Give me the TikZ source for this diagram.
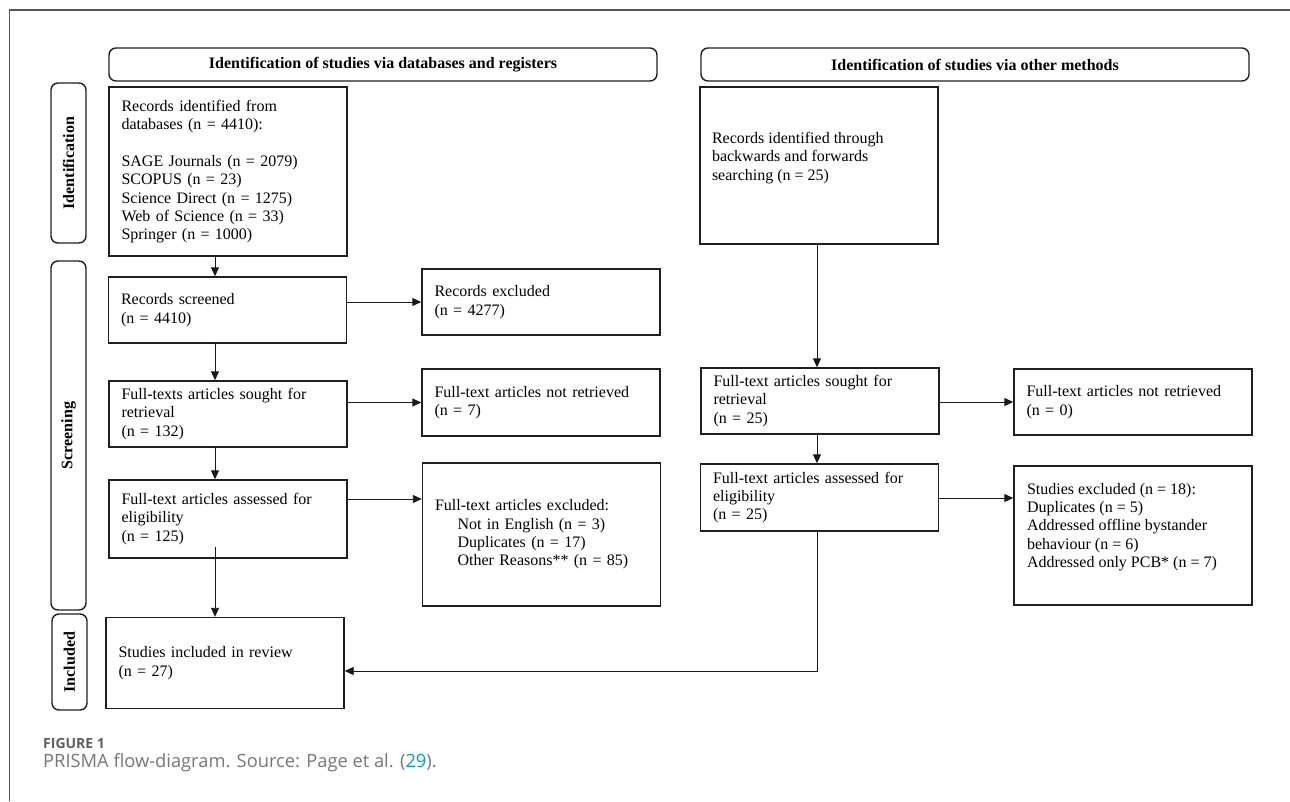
\documentclass[tikz,border=0pt]{standalone}
\usepackage{fontspec}
\setmainfont{Liberation Serif}
\newfontfamily\capfont{Open Sans}
\usetikzlibrary{arrows.meta,calc}
\definecolor{linkc}{RGB}{0,160,200}
\definecolor{framec}{RGB}{85,85,85}
\definecolor{capc}{RGB}{95,95,95}
\begin{document}
\begin{tikzpicture}[x=1pt,y=-1pt,
  bx/.style={draw=black!88, line width=1.4pt, inner xsep=12.5pt, inner ysep=0pt,
    align=left, minimum width=238pt, text width=213pt, minimum height=#1,
    font=\fontsize{16}{18.4}\selectfont},
  txt/.style={inner sep=0pt, align=left, font=\fontsize{16}{18.4}\selectfont},
  hdr/.style={draw=black!88, line width=1.4pt, rounded corners=7pt, minimum width=548pt,
    minimum height=33pt, inner sep=0pt, font=\bfseries\fontsize{16}{18.4}\selectfont},
  side/.style={draw=black!88, line width=1.4pt, rounded corners=7pt, rotate=90,
    minimum width=#1, minimum height=35pt, inner sep=0pt,
    font=\bfseries\fontsize{16}{18.4}\selectfont},
  arr/.style={draw=black!90, line width=0.9pt, -{Triangle[length=9pt,width=8pt]}},
  ln/.style={draw=black!90, line width=0.9pt}]
\useasboundingbox (0,0) rectangle (1290,801);
\fill[white] (0,0) rectangle (1290,801);
% outer frame
\draw[framec, line width=1.3pt] (9.5,801) -- (9.5,10) -- (1290,10);
% headers
\node[hdr] (H1) at (383,64.5) {Identification of studies via databases and registers};
\node[hdr] (H2) at (975,64.5) {Identification of studies via other methods};
% side labels
\node[side=160pt] (L1) at (68.5,163) {Identification};
\node[side=349pt] (L2) at (68.5,435.5) {Screening};
\node[side=96pt] (L3) at (69.5,662) {Included};
% left column
\node[bx=169pt] (B1) at (228,171.5) {Records identified from\\databases (n = 4410):\\[18.4pt]SAGE Journals (n = 2079)\\SCOPUS (n = 23)\\Science Direct (n = 1275)\\Web of Science (n = 33)\\Springer (n = 1000)};
\node[bx=66pt] (B2) at (227.5,310) {Records screened\\(n = 4410)};
\node[bx=66pt] (B3) at (228,414) {Full-texts articles sought for\\retrieval\\(n = 132)};
\node[bx=78pt] (B4) at (228,519) {Full-text articles assessed for\\eligibility\\(n = 125)};
\node[bx=91pt] (B5) at (225,663) {Studies included in review\\(n = 27)};
% exclusion column
\node[bx=66pt] (E1) at (541,302) {Records excluded\\(n = 4277)};
\node[bx=67pt] (E2) at (541,402.5) {Full-text articles not retrieved\\(n = 7)};
\node[bx=143pt] (E3) at (541.5,534.5) {Full-text articles excluded:\\\hspace*{22.5pt}Not in English (n = 3)\\\hspace*{22.5pt}Duplicates (n = 17)\\\hspace*{22.5pt}Other Reasons** (n = 85)};
% right side
\node[bx=157pt] (R1) at (819,165.5) {};
\node[txt, anchor=west] (R1t) at ($(R1.west)+(12.5,-7.8)$) {Records identified through\\backwards and forwards\\searching (n = 25)};
\node[bx=66pt] (R2) at (820,401) {Full-text articles sought for\\retrieval\\(n = 25)};
\node[bx=67pt] (R3) at (819.5,497.5) {Full-text articles assessed for\\eligibility\\(n = 25)};
\node[bx=66pt] (R4) at (1133,402) {Full-text articles not retrieved\\(n = 0)};
\node[bx=139pt] (R5) at (1133,535.5) {};
\node[txt, anchor=west] (R5t) at ($(R5.west)+(13.5,-8.5)$) {Studies excluded (n = 18):\\Duplicates (n = 5)\\Addressed offline bystander\\behaviour (n = 6)\\Addressed only PCB* (n = 7)};
% helper coordinates
\coordinate (cx) at (215,0);
\coordinate (cr) at (817,0);
\coordinate (ya) at (0,499);
\coordinate (yb) at (0,498);
\coordinate (yc) at (0,671);
% connectors left
\draw[arr] (B1.south -| cx) -- (B2.north -| cx);
\draw[arr] (B2.south -| cx) -- (B3.north -| cx);
\draw[arr] (B3.south -| cx) -- (B4.north -| cx);
\draw[arr] ($(B4.south -| cx)+(0,-12)$) -- (B5.north -| cx);
\draw[arr] (B2.east |- E1.west) -- (E1.west);
\draw[arr] (B3.east |- E2.west) -- (E2.west);
\draw[arr] (B4.east |- ya) -- (E3.west |- ya);
% connectors right
\draw[arr] (R1.south -| cr) -- (R2.north -| cr);
\draw[arr] (R2.south -| cr) -- (R3.north -| cr);
\draw[arr] (R2.east |- R4.west) -- (R4.west);
\draw[arr] (R3.east |- yb) -- (R5.west |- yb);
\draw[arr] (R3.south -| cr) -- (cr |- yc) -- (B5.east |- yc);
% caption
\node[anchor=base west, inner sep=0pt, text=capc, font=\capfont\bfseries\fontsize{14}{16}\selectfont] (fig) at (43,748.3) {FIGURE 1};
\node[anchor=base west, inner sep=0pt, text=capc!85, font=\capfont\fontsize{18.3}{21}\selectfont] (cap) at (43,767) {PRISMA flow-diagram. Source: Page et al. (\textcolor{linkc}{29}).};
\end{tikzpicture}
\end{document}
